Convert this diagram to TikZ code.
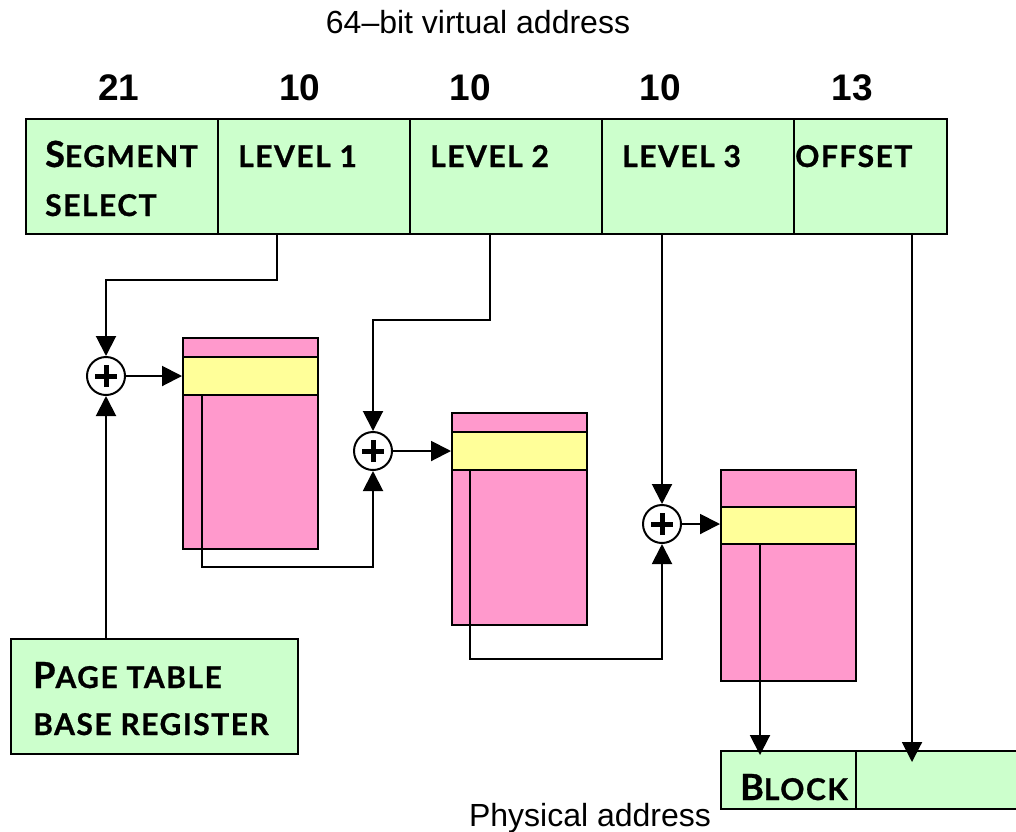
\documentclass[tikz,border=0pt]{standalone}
\usepackage{fontspec}
\setmainfont{Liberation Sans}
\newfontfamily\scf{Lato}[LetterSpace=5,BoldFeatures={FakeBold=0.8}]
\usetikzlibrary{arrows.meta}
\definecolor{cellgreen}{HTML}{CCFFCC}
\definecolor{tabpink}{HTML}{FF99CC}
\definecolor{tabyellow}{HTML}{FFFF99}
\newcommand\bigc[1]{{\fontsize{36}{36}\selectfont #1}}
\newcommand\smc[1]{{\fontsize{30}{30}\selectfont #1}}
\tikzset{
  cell/.style={draw, line width=2pt, fill=cellgreen, anchor=north west, inner sep=0pt, minimum height=115pt},
  tab/.style={draw, line width=2pt, fill=tabpink, anchor=north west, inner sep=0pt, minimum width=135pt},
  band/.style={draw, line width=2pt, fill=tabyellow, anchor=north west, inner sep=0pt, minimum width=135pt, minimum height=38pt},
  lbl/.style={anchor=base west, inner sep=0pt, font=\scf\bfseries},
  num/.style={anchor=base, inner sep=0pt, font=\fontsize{37}{37}\selectfont\bfseries},
  captext/.style={anchor=base, inner sep=0pt, font=\fontsize{32}{32}\selectfont},
  adder/.style={draw, circle, line width=2pt, fill=white, minimum size=38pt, inner sep=0pt,
    path picture={\draw[line width=5pt] ([xshift=-11pt]path picture bounding box.center) -- ([xshift=11pt]path picture bounding box.center);
      \draw[line width=5pt] ([yshift=-11pt]path picture bounding box.center) -- ([yshift=11pt]path picture bounding box.center);}},
  conn/.style={line width=2pt},
  arr/.style={conn, -{Triangle[length=20pt,width=20pt]}}
}
\begin{document}
\begin{tikzpicture}[x=1pt,y=-1pt]
\useasboundingbox (0,0) rectangle (1016,831);
\clip (0,0) rectangle (1016,831);
% title and widths
\node[captext] (title) at (478,33) {64–bit virtual address};
\node[num] (n1) at (119,100) {21};
\node[num] (n2) at (300,100) {10};
\node[num] (n3) at (470,100) {10};
\node[num] (n4) at (660,100) {10};
\node[num] (n5) at (852,100) {13};
% virtual address cells
\node[cell, minimum width=192pt] (seg) at (25,118) {};
\node[cell, minimum width=192pt] (l1) at (217,118) {};
\node[cell, minimum width=192pt] (l2) at (409,118) {};
\node[cell, minimum width=192pt] (l3) at (601,118) {};
\node[cell, minimum width=153pt] (off) at (793,118) {};
\node[lbl] (tseg) at (45,167) {\bigc{S}\smc{EGMENT}};
\node[lbl] (tsel) at (45,216) {\smc{SELECT}};
\node[lbl] (tl1) at (238,167) {\smc{LEVEL 1}};
\node[lbl] (tl2) at (430,167) {\smc{LEVEL 2}};
\node[lbl] (tl3) at (622,167) {\smc{LEVEL 3}};
\node[lbl] (toff) at (795,167) {\smc{OFFSET}};
% page table base register
\node[cell, minimum width=287pt, minimum height=115pt] (ptbr) at (10,638) {};
\node[lbl] (tp1) at (33,688) {\bigc{P}\smc{AGE TABLE}};
\node[lbl] (tp2) at (33,735) {\smc{BASE REGISTER}};
% tables
\node[tab, minimum height=211pt] (t1) at (182,337) {};
\node[band] (b1) at (182,356) {};
\node[tab, minimum height=212pt] (t2) at (451,412) {};
\node[band] (b2) at (451,431) {};
\node[tab, minimum height=211pt] (t3) at (720,469) {};
\node[band, minimum height=37pt] (b3) at (720,506) {};
% adders
\node[adder] (p1) at (106,376) {};
\node[adder] (p2) at (373,451) {};
\node[adder] (p3) at (662,524) {};
% physical address
\node[cell, minimum width=135pt, minimum height=58pt] (blk) at (720,750) {};
\node[cell, minimum width=200pt, minimum height=58pt] (poff) at (855,750) {};
\node[lbl] (tblk) at (740,800) {\bigc{B}\smc{LOCK}};
\node[captext] (phys) at (590,826) {Physical address};
% connectors
\coordinate (l1o) at (277,233);
\coordinate (l2o) at (490,233);
\coordinate (l3o) at (662,233);
\coordinate (offo) at (912,233);
\draw[arr] (l1o) -- ++(0,47) -| (p1.north);
\draw[arr] (ptbr.north -| p1.south) -- (p1.south);
\draw[arr] (p1.east) -- (p1.east -| b1.west);
\draw[arr] ([xshift=20pt]b1.south west) -- ++(0,171) -| (p2.south);
\draw[arr] (l2o) -- ++(0,87) -| (p2.north);
\draw[arr] (p2.east) -- (p2.east -| b2.west);
\draw[arr] ([xshift=19pt]b2.south west) -- ++(0,188) -| (p3.south);
\draw[arr] (l3o) -- (p3.north);
\draw[arr] (p3.east) -- (p3.east -| b3.west);
\coordinate (blkin) at (760,755);
\coordinate (offin) at (912,762);
\draw[arr] ([xshift=40pt]b3.south west) -- (blkin);
\draw[arr] (offo) -- (offin);
\end{tikzpicture}
\end{document}
